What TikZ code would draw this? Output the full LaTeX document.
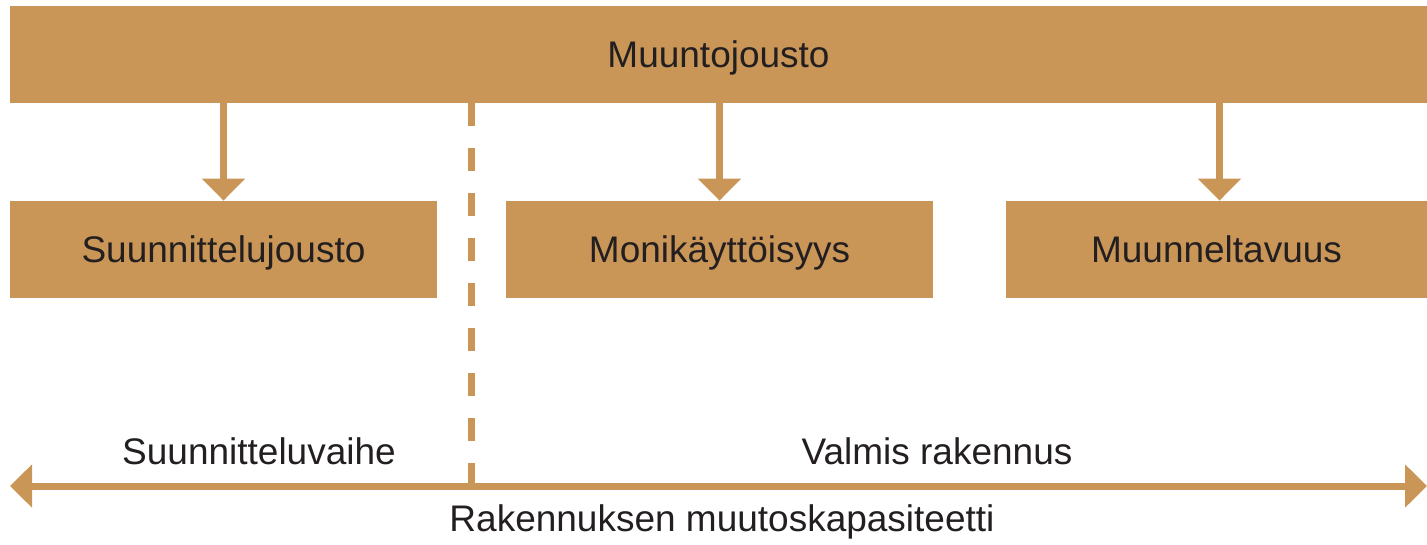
\documentclass[tikz,border=0pt]{standalone}
\usepackage{fontspec}
\setmainfont{Liberation Sans}
\usetikzlibrary{arrows.meta}
\definecolor{ochre}{HTML}{C99657}
\definecolor{ink}{HTML}{231F20}
\begin{document}
\begin{tikzpicture}[x=0.5pt,y=-0.5pt,
  box/.style={fill=ochre,draw=none,inner sep=0pt,minimum height=48.5pt,
    text height=13.3pt,text depth=0pt,
    text=ink,font=\fontsize{18.5pt}{22pt}\selectfont},
  lbl/.style={inner sep=0pt,text=ink,font=\fontsize{18.5pt}{22pt}\selectfont},
  conn/.style={draw=ochre,line width=3.5pt},
  arr/.style={conn,-{Triangle[length=11pt,width=21pt]}},
  dbl/.style={conn,{Triangle[length=11pt,width=21pt]}-{Triangle[length=11pt,width=21pt]}},
  dashline/.style={conn,dash pattern=on 11.5pt off 11pt}]
\useasboundingbox (0,0) rectangle (1427,545);
\node[box,minimum width=708.5pt] (top) at (718.5,54.5) {Muuntojousto};
\node[box,minimum width=213.5pt] (s1) at (223.5,249.5) {Suunnittelujousto};
\node[box,minimum width=213.5pt] (s2) at (719.5,249.5) {Monikäyttöisyys};
\node[box,minimum width=210.5pt] (s3) at (1216.5,249.5) {Muunneltavuus};
\draw[arr] (top.south -| s1) -- (s1.north);
\draw[arr] (top.south -| s2) -- (s2.north);
\draw[arr] ([xshift=1.5pt]top.south -| s3) -- ([xshift=1.5pt]s3.north);
\coordinate (L) at (10,486);
\coordinate (R) at (1427,486);
\coordinate (D) at (471,486);
\draw[dbl] (L) -- (R);
\draw[dashline] (top.south -| D) -- (D);
\node[lbl] (t1) at (259,451) {Suunnitteluvaihe};
\node[lbl] (t2) at (937,451) {Valmis rakennus};
\node[lbl] (t3) at (722,522) {Rakennuksen muutoskapasiteetti};
\end{tikzpicture}
\end{document}
